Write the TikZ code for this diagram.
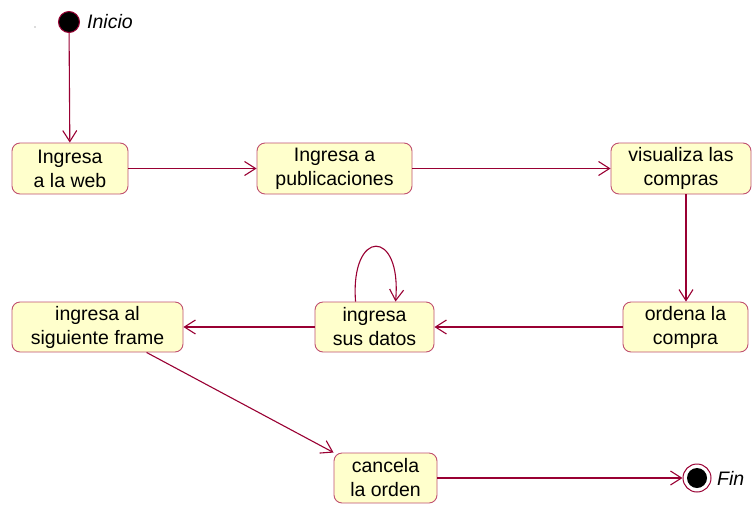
\documentclass[tikz,border=0pt]{standalone}
\usepackage{fontspec}
\setmainfont{Liberation Sans}
\usetikzlibrary{arrows.meta,calc}
\definecolor{wire}{HTML}{990033}
\definecolor{statefill}{HTML}{FFFFCC}
\definecolor{stateline}{HTML}{C05070}
\begin{document}
\begin{tikzpicture}[x=1pt,y=-1pt,
  state/.style={draw=stateline,fill=statefill,line width=0.9pt,rounded corners=8pt,
    align=center,inner sep=0pt,font=\fontsize{19.5}{24}\selectfont},
  flow/.style={draw=wire,line width=1.1pt,-{Straight Barb[length=11pt,width=14pt,line width=1.1pt]}},
  lbl/.style={font=\fontsize{19.5}{24}\selectfont\itshape,anchor=west,inner sep=0pt}]
\useasboundingbox (0,0) rectangle (752,504);

% start and end markers
\node (start) [circle,fill=black,draw=wire,line width=1pt,minimum size=21pt,inner sep=0pt] at (69,22) {};
\node (startlbl) [lbl] at (87,22) {Inicio};
\fill[black!60] (35,27) circle (0.6pt);
\node (end) [circle,draw=wire,line width=1pt,minimum size=28pt,inner sep=0pt] at (697,478) {};
\node (endcore) [circle,fill=black,minimum size=20pt,inner sep=0pt] at (end.center) {};
\node (endlbl) [lbl] at (717,478) {Fin};

% states
\node (web) [state,minimum width=116pt,minimum height=51pt] at (70,168.5) {Ingresa\\a la web};
\node (pub) [state,minimum width=155pt,minimum height=51pt] at (334.5,168.5) {Ingresa a\\publicaciones};
\node (vis) [state,minimum width=140pt,minimum height=51pt] at (681,168.5) {visualiza las\\compras};
\node (ord) [state,minimum width=125pt,minimum height=50pt] at (685.5,327) {ordena la\\compra};
\node (dat) [state,minimum width=119pt,minimum height=50pt] at (374.5,327) {ingresa\\sus datos};
\node (frm) [state,minimum width=171pt,minimum height=50pt] at (97.5,327) {ingresa al\\siguiente frame};
\node (can) [state,minimum width=103pt,minimum height=50pt] at (385.5,478) {cancela\\la orden};

% transitions
\draw[flow] (start) -- (web);
\draw[flow] (web) -- (pub);
\draw[flow] (pub) -- (vis);
\draw[flow] (vis.south -| 686,0) -- (ord.north -| 686,0);
\draw[flow] (ord) -- (dat);
\draw[flow] (dat) -- (frm);
\draw[flow] ($(frm.south west)+(135,0)$) -- (can.north west);
\draw[flow] (can) -- (end);
\draw[flow] ($(dat.north west)+(41,0)$) .. controls (350,228) and (402,228) .. ($(dat.north west)+(81,0)$);
\end{tikzpicture}
\end{document}
